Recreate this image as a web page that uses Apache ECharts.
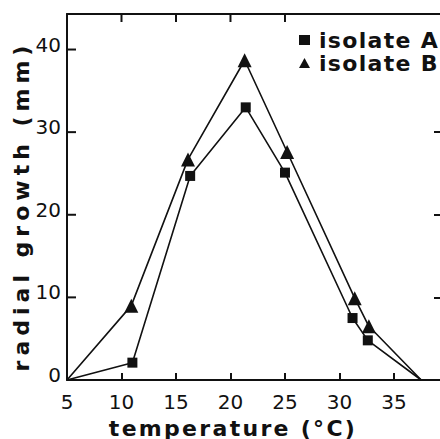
<!DOCTYPE html>
<html>
<head>
<meta charset="utf-8">
<script src="https://cdn.jsdelivr.net/npm/echarts@6/dist/echarts.min.js"></script>
<style>
html,body{margin:0;padding:0;background:#fff;}
#chart{width:440px;height:439px;}
</style>
</head>
<body>
<div id="chart"></div>
<script>
// Data
const temperatureA = [5, 11, 16.3, 21.4, 25, 31.2, 32.6, 37.5];
const growthA      = [0, 2.1, 24.7, 33.0, 25.1, 7.5, 4.8, 0];
const temperatureB = [5, 10.9, 16.1, 21.3, 25.2, 31.4, 32.7, 37.5];
const growthB      = [0, 9.0, 26.7, 38.7, 27.6, 9.9, 6.5, 0];
const seriesNames  = ['isolate A', 'isolate B'];
const xTicks = [5, 10, 15, 20, 25, 30, 35];
const yTicks = [0, 10, 20, 30, 40];
const topTicks = [10, 15, 20, 25];
const leftTicks = [10, 20, 30, 40];
const rightTicks = [10, 20, 30];
const xMin = 5, xMax = 39.5, yMin = 0, yMax = 44.3;
const xTitle = 'temperature (°C)';
const yTitle = 'radial growth (mm)';

const zipPts = (xs, ys) => xs.map((x, i) => ({
  value: [x, ys[i]],
  symbol: (ys[i] === 0) ? 'none' : undefined
}));
const ink = '#111';
const tickFont = () => ({fontFamily: 'DejaVu Sans', fontSize: 20, color: ink});
const boldFont = () => ({fontFamily: 'DejaVu Sans', fontWeight: 'bold', fontSize: 22, color: ink});
const mkLine = () => ({show: true, onZero: false, lineStyle: {color: ink, width: 2}});
const mkTick = (len) => ({show: true, inside: true, length: len, lineStyle: {color: ink, width: 2}});

// inward tick marks drawn through the cartesian scale (top and left frame edges)
function tickSeries(points, dx, dy) {
  return {
    type: 'custom', silent: true, clip: false, z: 4,
    encode: {x: 0, y: 1},
    data: points,
    renderItem: (params, api) => {
      const p = api.coord([api.value(0), api.value(1)]);
      return {type: 'line', shape: {x1: p[0], y1: p[1], x2: p[0] + dx, y2: p[1] + dy},
              style: {stroke: ink, lineWidth: 2}};
    }
  };
}

const chart = echarts.init(document.getElementById('chart'), null, {renderer: 'svg'});
chart.setOption({
  animation: false,
  grid: {left: 67, top: 14, width: 376, bottom: 59, outerBoundsMode: 'none'},
  legend: {
    orient: 'vertical', left: 294, top: 24, itemGap: 1,
    itemWidth: 11, itemHeight: 10,
    textStyle: Object.assign(boldFont(), {lineHeight: 20, padding: [0, 0, 0, 4]}),
    data: [
      {name: seriesNames[0], icon: 'rect', itemStyle: {color: ink}},
      {name: seriesNames[1], icon: 'triangle', itemStyle: {color: ink}}
    ]
  },
  xAxis: [{
    type: 'value', min: xMin, max: xMax, interval: 5,
    name: xTitle, nameLocation: 'middle', nameGap: 37, nameMoveOverlap: false,
    nameTextStyle: Object.assign({padding: [0, 44, 0, 0]}, boldFont()),
    axisLine: mkLine(),
    axisTick: mkTick(7),
    axisLabel: Object.assign({margin: 12, customValues: xTicks}, tickFont()),
    splitLine: {show: false}
  }, {
    type: 'value', position: 'top', min: xMin, max: xMax, interval: 5,
    axisLine: mkLine(),
    axisTick: {show: false},
    axisLabel: {show: false},
    splitLine: {show: false}
  }],
  yAxis: [{
    type: 'value', min: yMin, max: yMax, interval: 10,
    name: yTitle, nameLocation: 'middle', nameGap: 35, nameRotate: 90, nameMoveOverlap: false,
    nameTextStyle: Object.assign({padding: [0, 18, 0, 0]}, boldFont()),
    axisLine: mkLine(),
    axisTick: {show: false},
    axisLabel: Object.assign({margin: 6, customValues: yTicks, verticalAlign: 'bottom', lineHeight: 10}, tickFont()),
    splitLine: {show: false}
  }, {
    type: 'value', position: 'right', min: yMin, max: yMax, interval: 10,
    axisLine: mkLine(),
    axisTick: Object.assign(mkTick(9), {customValues: rightTicks}),
    axisLabel: {show: false},
    splitLine: {show: false}
  }],
  series: [{
    name: seriesNames[0], type: 'line', data: zipPts(temperatureA, growthA),
    symbol: 'rect', symbolSize: 10, showAllSymbol: true,
    lineStyle: {color: ink, width: 1.6}, itemStyle: {color: ink}
  }, {
    name: seriesNames[1], type: 'line', data: zipPts(temperatureB, growthB),
    symbol: 'triangle', symbolSize: 14, showAllSymbol: true,
    lineStyle: {color: ink, width: 1.6}, itemStyle: {color: ink}
  },
  tickSeries(topTicks.map(v => [v, yMax]), 0, 8),
  tickSeries(leftTicks.map(v => [xMin, v]), 9, 0)
  ]
});

// widen the letter spacing of the bold typewritten labels, as in the original figure
const spacing = {};
spacing[xTitle] = 2.3;
spacing[yTitle] = 5;
spacing[seriesNames[0]] = 1.3;
spacing[seriesNames[1]] = 1.3;
function applySpacing() {
  document.querySelectorAll('#chart svg text').forEach(t => {
    const s = spacing[t.textContent];
    if (s !== undefined) t.setAttribute('letter-spacing', s);
  });
}
applySpacing();
chart.on('finished', applySpacing);
</script>
</body>
</html>
